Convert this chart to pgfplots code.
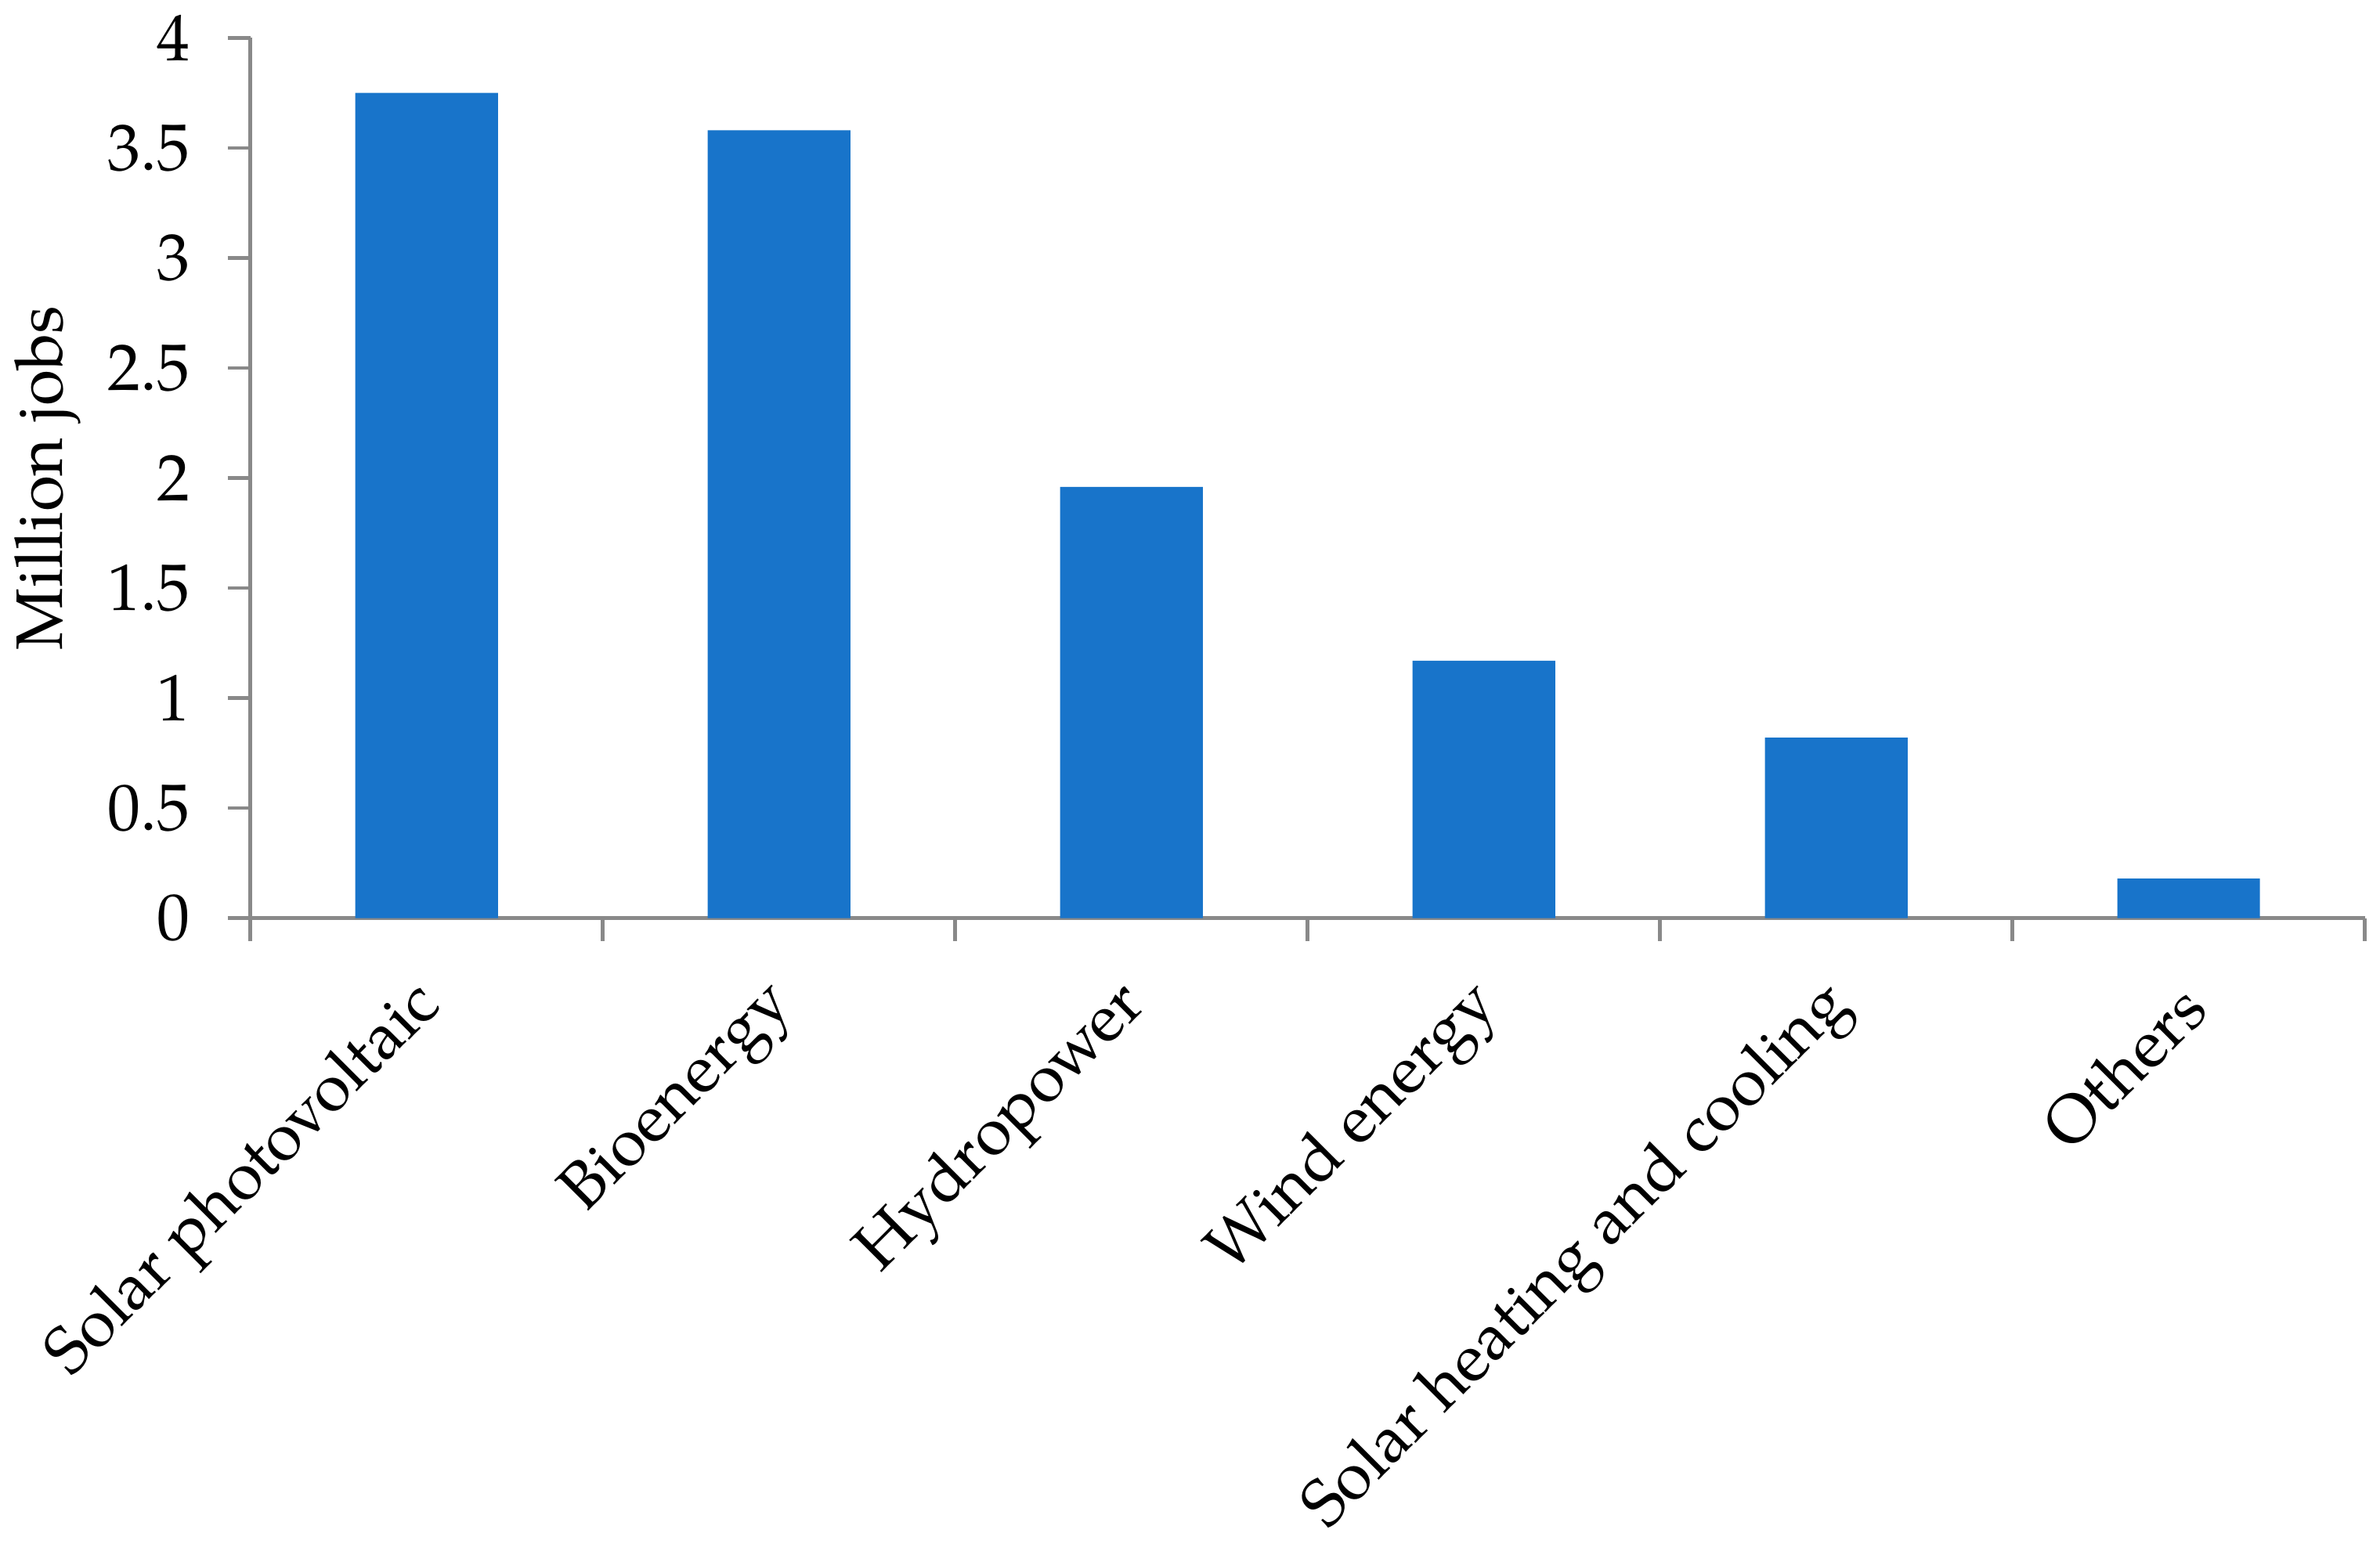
\documentclass[border=0pt]{standalone}
\usepackage{fontspec}
\setmainfont{TeX Gyre Pagella}
\usepackage{pgfplots}
\pgfplotsset{compat=1.18}
\definecolor{barblue}{HTML}{1874CA}
\definecolor{axgray}{HTML}{898989}
\begin{document}
\begin{tikzpicture}
\begin{axis}[
    name=main,
    scale only axis,
    width=417.9pt, height=174pt,
    xmin=-0.5, xmax=5.5,
    ymin=0, ymax=4,
    axis lines*=left,
    axis line style={axgray, line width=0.75pt},
    tick style={axgray, line width=0.75pt},
    tick align=outside,
    major tick length=4.5pt,
    minor tick length=4.5pt,
    ytick={0,0.5,1,1.5,2,2.5,3,3.5,4},
    yticklabels={0,0.5,1,1.5,2,2.5,3,3.5,4},
    xtick={0,1,2,3,4,5},
    xticklabels={Solar photovoltaic, Bioenergy, Hydropower, Wind energy, Solar heating and cooling, Others},
    major x tick style={draw=none},
    minor xtick={-0.5,0.5,1.5,2.5,3.5,4.5,5.5},
    /pgf/number format/assume math mode=true,
    tick label style={font=\fontsize{13}{15}\selectfont, black},
    xticklabel style={rotate=45, anchor=east, xshift=-3.5pt, yshift=-8.5pt},
    yticklabel style={xshift=-4pt},
    ylabel={Million jobs},
    ylabel style={font=\fontsize{13}{15}\selectfont, at={(axis description cs:-0.096,0.5)}, anchor=center},
]
\addplot[ybar, bar width=0.405, fill=barblue, draw=none] coordinates {(0,3.75) (1,3.58) (2,1.96) (3,1.17) (4,0.82) (5,0.18)};
\end{axis}
\pgfresetboundingbox
\useasboundingbox ([xshift=-49.5pt, yshift=-123.6pt]main.south west) rectangle ([xshift=3pt, yshift=7.5pt]main.north east);
\end{tikzpicture}
\end{document}
